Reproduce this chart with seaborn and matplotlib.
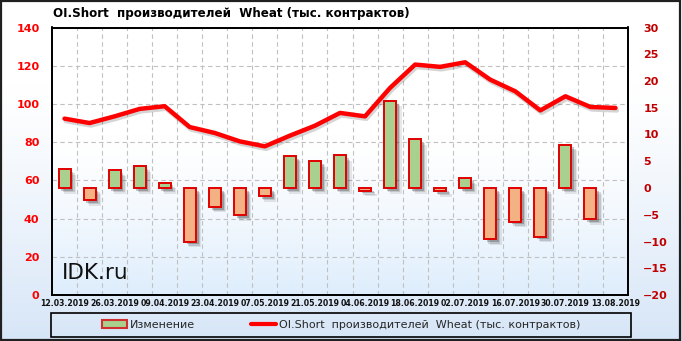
import numpy as np
import matplotlib
matplotlib.use("Agg")
import matplotlib.pyplot as plt
import matplotlib.patheffects as pe
from matplotlib.patches import Rectangle, Patch
from matplotlib.lines import Line2D
import seaborn as sns

# ---------------- data ----------------
dates = ["12.03.2019", "19.03.2019", "26.03.2019", "02.04.2019", "09.04.2019",
         "16.04.2019", "23.04.2019", "30.04.2019", "07.05.2019", "14.05.2019",
         "21.05.2019", "28.05.2019", "04.06.2019", "11.06.2019", "18.06.2019",
         "25.06.2019", "02.07.2019", "09.07.2019", "16.07.2019", "23.07.2019",
         "30.07.2019", "06.08.2019", "13.08.2019"]
oi_short = [92.3, 90.0, 93.5, 97.4, 98.8, 87.9, 84.8, 80.4, 77.8, 83.4,
            88.6, 95.3, 93.5, 108.4, 120.6, 119.4, 121.8, 112.7, 106.6, 96.6,
            104.0, 98.4, 97.9]
change_dates = dates[:22]
change = [3.5, -2.3, 3.3, 4.1, 1.0, -10.0, -3.5, -5.1, -1.5, 6.0,
          5.0, 6.1, -0.5, 16.3, 9.1, -0.6, 1.8, -9.6, -6.3, -9.1,
          8.1, -5.8]
tick_labels = dates[::2]
title = "OI.Short  производителей  Wheat (тыс. контрактов)"
legend_bar = "Изменение"
legend_line = "OI.Short  производителей  Wheat (тыс. контрактов)"
watermark = "IDK.ru"

# ---------------- figure ----------------
sns.set_theme(style="white")
plt.rcParams["font.family"] = ["DejaVu Sans"]

W, H = 682, 341
fig = plt.figure(figsize=(W / 100, H / 100), dpi=100)

# figure background gradient
bg = fig.add_axes([0, 0, 1, 1], zorder=-10)
t = np.linspace(0, 1, 256)[:, None]
top_c = np.array([1.0, 1.0, 1.0])
bot_c = np.array([0.84, 0.90, 0.97])
ramp = np.clip((t - 0.25) / 0.75, 0, 1) ** 1.2
grad = top_c * (1 - ramp[..., None]) + bot_c * ramp[..., None]
bg.imshow(grad, extent=[0, 1, 0, 1], aspect="auto", origin="upper")
bg.set_xlim(0, 1); bg.set_ylim(0, 1)
bg.axis("off")
bg.add_patch(Rectangle((0.002, 0.004), 0.995, 0.992, transform=bg.transAxes,
                       fill=False, edgecolor="#202020", lw=1.6))

# plot-area position
x0, x1 = 52 / W, 628 / W
y0, y1 = 1 - 295 / H, 1 - 27.5 / H
pos = [x0, y0, x1 - x0, y1 - y0]

pbg = fig.add_axes(pos, zorder=-5)
ramp2 = np.clip((t - 0.4) / 0.6, 0, 1) ** 1.4
bot2 = np.array([0.87, 0.93, 0.99])
grad2 = top_c * (1 - ramp2[..., None]) + bot2 * ramp2[..., None]
pbg.imshow(grad2, extent=[0, 1, 0, 1], aspect="auto", origin="upper")
pbg.set_xlim(0, 1); pbg.set_ylim(0, 1)
pbg.axis("off")

ax = fig.add_axes(pos)
ax.patch.set_visible(False)
ax2 = ax.twinx()
ax2.patch.set_visible(False)

# line (left axis)
x_idx = np.arange(len(dates))
sns.lineplot(x=x_idx, y=oi_short, ax=ax, color="#ff0000", lw=3.2, sort=False,
             solid_joinstyle="round", solid_capstyle="round",
             path_effects=[pe.SimpleLineShadow(offset=(1.0, -1.8), alpha=0.18,
                                               shadow_color="k"),
                           pe.Normal()])

# bars (right axis)
signs = ["pos" if v > 0 else "neg" for v in change]
sns.barplot(x=change_dates, y=change, hue=signs, order=dates,
            palette={"pos": "#a9d08e", "neg": "#f4b183"}, dodge=False,
            width=0.48, edgecolor="#e00000", linewidth=1.4, ax=ax2,
            legend=False, saturation=1)
shadow = [pe.SimplePatchShadow(offset=(o, -o), alpha=a, shadow_rgbFace="#202020")
          for o, a in ((4.0, 0.10), (3.0, 0.15), (2.0, 0.25))]
for p in ax2.patches:
    p.set_path_effects(shadow + [pe.Normal()])

# axes scales
ax.set_xlim(-0.5, len(dates) - 0.5)
ax.set_ylim(0, 140)
ax.set_yticks(np.arange(0, 141, 20))
ax2.set_ylim(-20, 30)
ax2.set_yticks(np.arange(-20, 31, 5))
ax.set_xticks(np.arange(0, len(dates), 2))
ax.set_xticklabels(tick_labels)
ax.set_xticks(np.arange(0.5, len(dates) - 1, 1), minor=True)

for a in (ax, ax2):
    a.set_xlabel("")
    a.set_ylabel("")
    a.tick_params(axis="both", which="both", length=0)
    for s in a.spines.values():
        s.set_color("black")
        s.set_linewidth(1.3)

ax.tick_params(axis="y", labelcolor="#ff0000", labelsize=8, pad=9)
for lab in ax.get_yticklabels():
    lab.set_fontweight("bold")
ax2.tick_params(axis="y", labelcolor="#c00000", labelsize=8, pad=11)
for lab in ax2.get_yticklabels():
    lab.set_fontweight("bold")
ax.tick_params(axis="x", labelsize=5.6, pad=3, labelcolor="#101010")
for lab in ax.get_xticklabels():
    lab.set_fontweight("bold")

# grid (left-axis based)
ax.grid(False)
ax2.grid(False)
ax.xaxis.grid(True, which="minor", linestyle=(0, (4, 3)), color="#c0c0c0", lw=0.8)
ax.yaxis.grid(True, which="major", linestyle=(0, (4, 3)), color="#c0c0c0", lw=0.8)
ax.set_axisbelow(True)

# watermark
ax.text(62 / W, 1 - 279 / H, watermark, transform=fig.transFigure,
        fontsize=15.5, color="#111111", ha="left", va="baseline")

# title
fig.text(53 / W, 1 - 13 / H, title, fontsize=8.6, fontweight="bold",
         ha="left", va="center", color="black")

# legend box
fig.patches.append(Rectangle((51 / W, 1 - 337 / H), 580 / W, 24 / H,
                             transform=fig.transFigure, fill=False,
                             edgecolor="black", lw=1.2))
handles = [Patch(facecolor="#a9d08e", edgecolor="#d03030", lw=1.5),
           Line2D([0], [0], color="#ff0000", lw=3)]
fig.legend(handles, [legend_bar, legend_line], loc="center",
           bbox_to_anchor=(341 / W, 1 - 325 / H), ncol=2, frameon=False,
           fontsize=8, handlelength=2.3, handleheight=0.7,
           handletextpad=0.25, columnspacing=5.0)

fig.savefig("out.png", dpi=100)
